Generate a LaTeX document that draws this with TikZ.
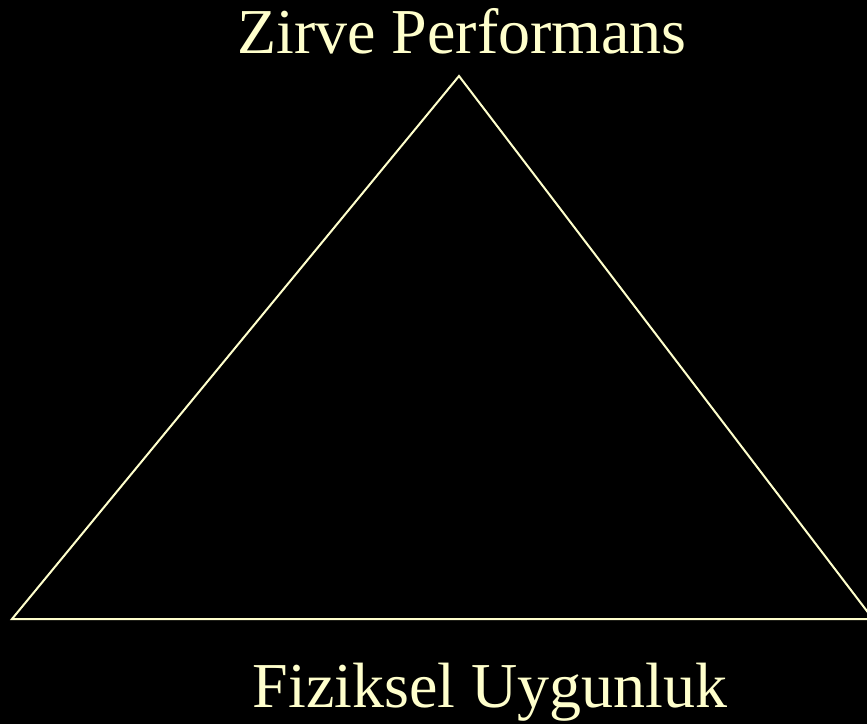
\documentclass[tikz,border=0pt]{standalone}
\usepackage{fontspec}
\setmainfont{Liberation Serif}
\definecolor{pale}{HTML}{FFFFCC}
\tikzset{
  label text/.style={text=pale, font=\fontsize{64}{70}\selectfont, inner sep=0pt, anchor=base},
  edge line/.style={draw=pale, line width=2pt, line join=miter}
}

\begin{document}
\begin{tikzpicture}[x=1pt, y=-1pt]

% --- Background ---
\fill[black] (0,0) rectangle (867,724);
\useasboundingbox (0,0) rectangle (867,724);
\clip (0,0) rectangle (867,724);

% Triangle corners
\coordinate (apex) at (459,76);
\coordinate (baseleft) at (12,619);
\coordinate (baseright) at (873,619);

\draw[edge line] (baseleft) -- (apex) -- (baseright) -- cycle;

% Labels
\node[label text] (peak) at (462,53) {Zirve Performans};
\node[label text] (fitness) at (490,707) {Fiziksel Uygunluk};

\end{tikzpicture}
\end{document}
